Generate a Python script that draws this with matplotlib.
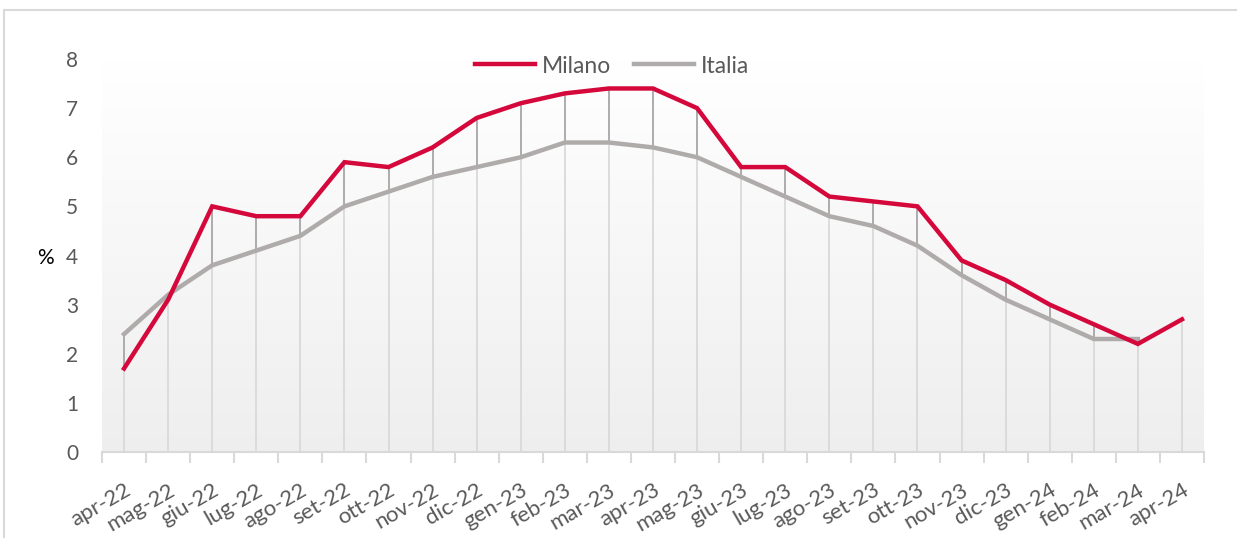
import numpy as np
import matplotlib
matplotlib.use("Agg")
import matplotlib.pyplot as plt
from matplotlib.patches import Rectangle

months = ["apr-22", "mag-22", "giu-22", "lug-22", "ago-22", "set-22", "ott-22",
          "nov-22", "dic-22", "gen-23", "feb-23", "mar-23", "apr-23", "mag-23",
          "giu-23", "lug-23", "ago-23", "set-23", "ott-23", "nov-23", "dic-23",
          "gen-24", "feb-24", "mar-24", "apr-24"]
milano = [1.7, 3.1, 5.0, 4.8, 4.8, 5.9, 5.8, 6.2, 6.8, 7.1, 7.3, 7.4, 7.4,
          7.0, 5.8, 5.8, 5.2, 5.1, 5.0, 3.9, 3.5, 3.0, 2.6, 2.2, 2.7]
italia = [2.4, 3.2, 3.8, 4.1, 4.4, 5.0, 5.3, 5.6, 5.8, 6.0, 6.3, 6.3, 6.2,
          6.0, 5.6, 5.2, 4.8, 4.6, 4.2, 3.6, 3.1, 2.7, 2.3, 2.3, np.nan]

RED = "#d5083c"
GRAY = "#afabab"
TXT = "#595959"
plt.rcParams["font.family"] = ["Lato", "DejaVu Sans"]

fig = plt.figure(figsize=(12.37, 5.38), dpi=100)
# outer chart border (cut off at right/bottom like the screenshot)
fig.patches.append(Rectangle((4 / 1237, -0.05), 1.2, 1 - 10 / 538 + 0.05,
                             transform=fig.transFigure, fill=False,
                             edgecolor="#d9d9d9", linewidth=1.5))

ax = fig.add_axes([102 / 1237, 1 - 452 / 538, (1204 - 102) / 1237, (452 - 59) / 538])
x = np.arange(len(months))
ax.set_xlim(-0.5, len(months) - 0.5)
ax.set_ylim(0, 8)

# gradient background, white at top to light gray at bottom
grad = np.linspace(0, 1, 256).reshape(-1, 1, 1)
img = np.array([1.0, 1.0, 1.0]) * (1 - grad) + np.array([0.935, 0.935, 0.935]) * grad
ax.imshow(img, extent=(-0.5, len(months) - 0.5, 0, 8), aspect="auto", zorder=0,
          origin="upper")

mil = np.array(milano)
ita = np.array(italia)
low = np.where(np.isnan(ita), mil, np.fmin(mil, ita))
high = np.where(np.isnan(ita), mil, np.fmax(mil, ita))
# drop lines
ax.vlines(x, 0, low, color="#d9d9d9", linewidth=1.3, zorder=1)
ax.vlines(x, low, high, color="#a6a6a6", linewidth=1.3, zorder=1)

ax.plot(x, ita, color=GRAY, linewidth=3.2, label="Italia", zorder=2,
        solid_joinstyle="miter")
ax.plot(x, mil, color=RED, linewidth=3.2, label="Milano", zorder=3,
        solid_joinstyle="miter")

for s in ["top", "right", "left"]:
    ax.spines[s].set_visible(False)
ax.spines["bottom"].set_color("#d9d9d9")
ax.spines["bottom"].set_linewidth(1.5)

ax.set_yticks(range(0, 9))
ax.tick_params(axis="y", length=0, pad=17, labelsize=15, labelcolor=TXT)
ax.set_xticks(x)
ax.set_xticklabels(months, rotation=30, ha="right", rotation_mode="anchor")
ax.tick_params(axis="x", which="major", length=0, pad=20, labelsize=16,
               labelcolor=TXT)
ax.set_xticks(np.arange(-0.5, len(months)), minor=True)
ax.tick_params(axis="x", which="minor", length=8, width=1.5, color="#d9d9d9")

fig.text(45 / 1237, 1 - 258 / 538, "%", fontsize=15, color="#000000",
         ha="center", va="center")

handles, labels = ax.get_legend_handles_labels()
fig.legend(handles[::-1], labels[::-1], loc="center", ncol=2,
           bbox_to_anchor=(612 / 1237, 1 - 66 / 538), frameon=False,
           fontsize=16.5, labelcolor=TXT, handlelength=2.6, handletextpad=0.3,
           columnspacing=1.0)

fig.savefig("out.png", dpi=100)
